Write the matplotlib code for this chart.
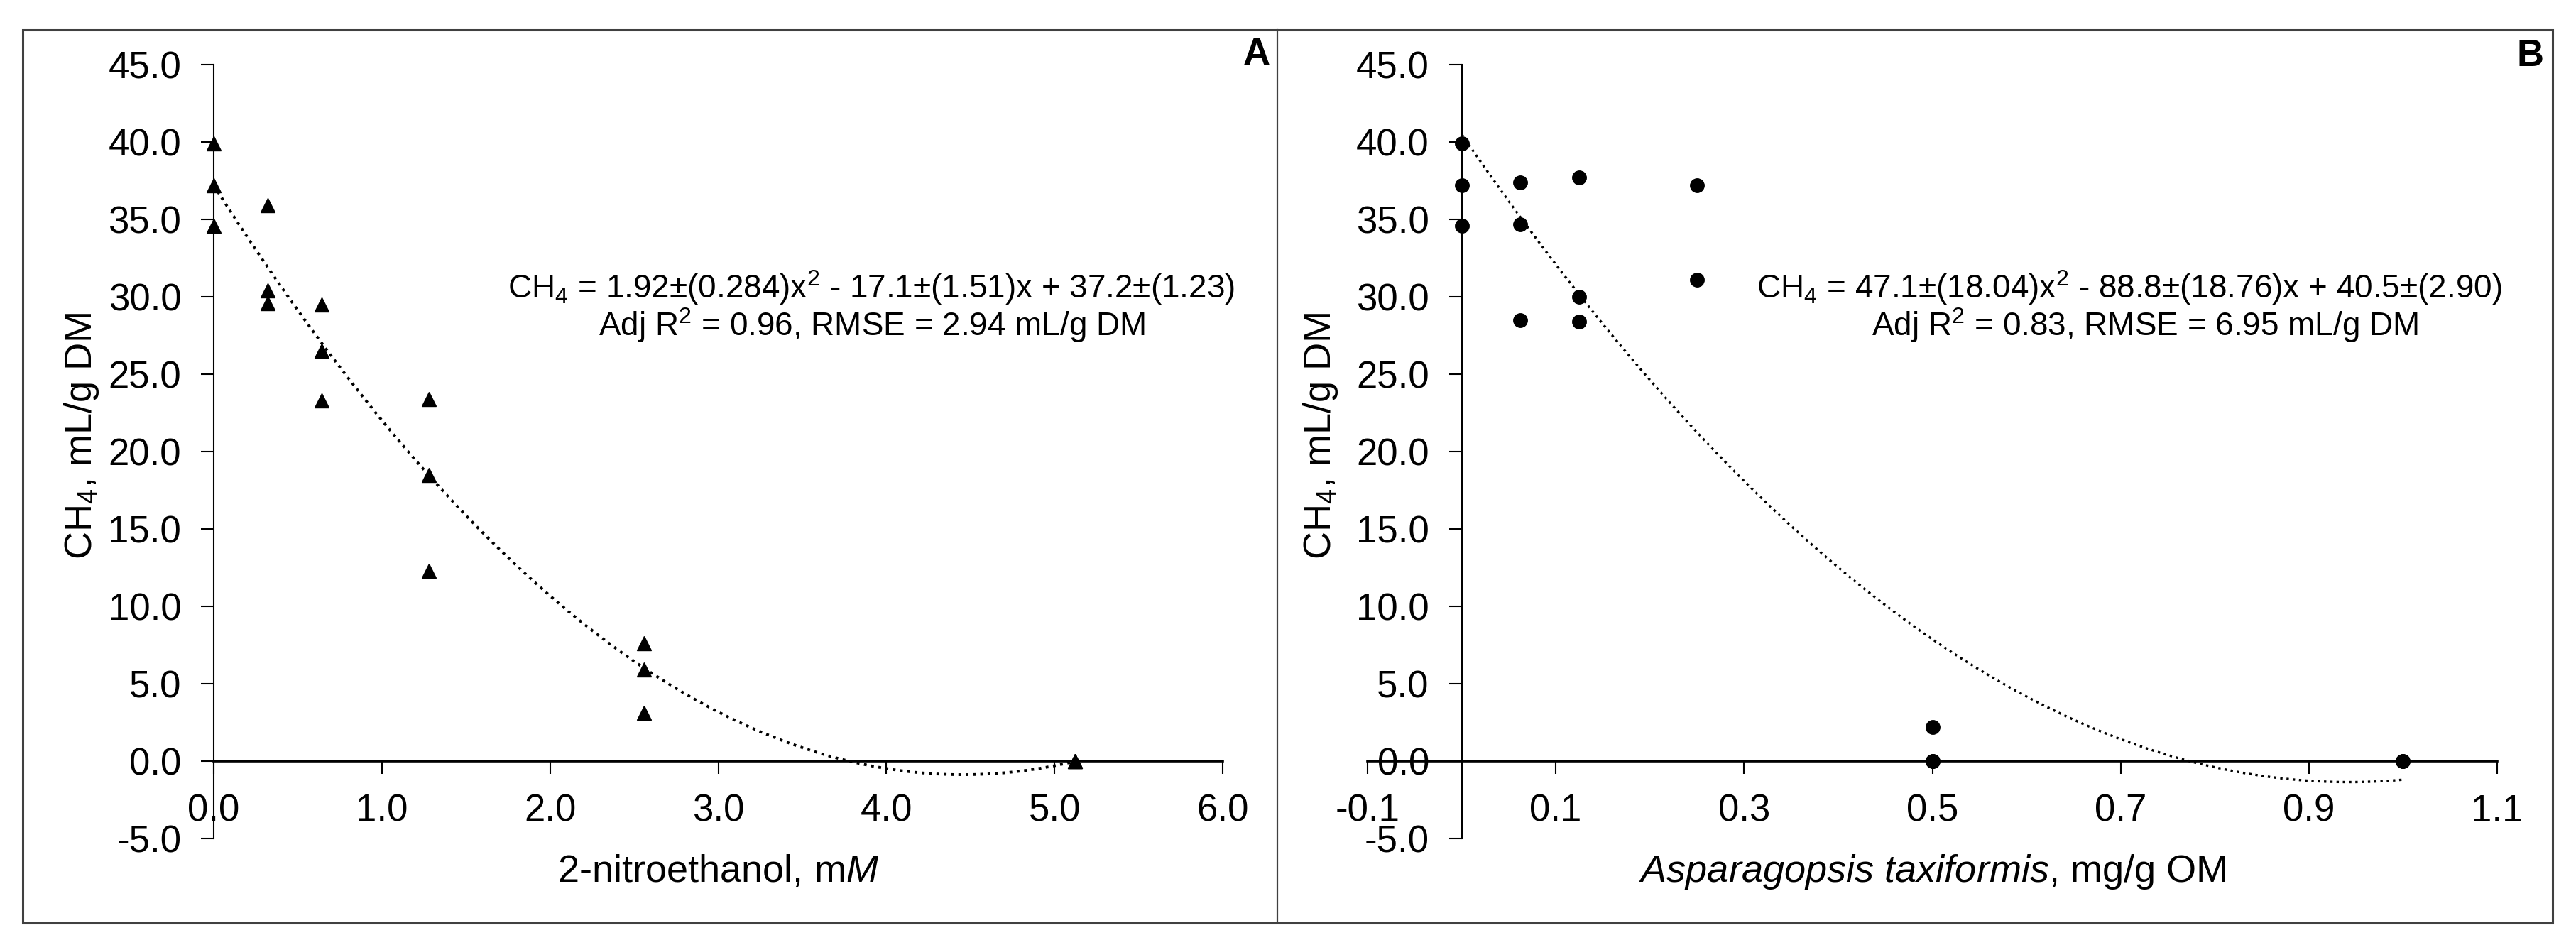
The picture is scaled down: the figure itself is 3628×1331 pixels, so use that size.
import numpy as np
import matplotlib
matplotlib.use("Agg")
import matplotlib.pyplot as plt
from matplotlib.patches import Rectangle
from matplotlib.lines import Line2D

plt.rcParams['font.family'] = ['Liberation Sans', 'DejaVu Sans']
plt.rcParams['mathtext.fontset'] = 'custom'
plt.rcParams['mathtext.rm'] = 'Liberation Sans'
plt.rcParams['mathtext.it'] = 'Liberation Sans:italic'
plt.rcParams['axes.unicode_minus'] = False

# panel A: 2-nitroethanol
nitro_dose = [0, 0, 0, 0.32, 0.32, 0.32, 0.64, 0.64, 0.64,
              1.28, 1.28, 1.28, 2.56, 2.56, 2.56, 5.12, 5.12, 5.12]
nitro_ch4 = [39.9, 37.2, 34.6, 35.9, 30.4, 29.6, 29.5, 26.5, 23.3,
             23.4, 18.5, 12.3, 7.6, 5.9, 3.1, 0.0, 0.0, 0.0]
nitro_coef = [1.92, -17.1, 37.2]          # printed trendline coefficients
nitro_xticks = [0, 1, 2, 3, 4, 5, 6]

# panel B: Asparagopsis taxiformis
asp_dose = [0, 0, 0, 0.0625, 0.0625, 0.0625, 0.125, 0.125, 0.125,
            0.25, 0.25, 0.5, 0.5, 0.5, 1.0, 1.0]
asp_ch4 = [39.9, 37.2, 34.6, 37.4, 34.7, 28.5, 37.7, 30.0, 28.4,
           37.2, 31.1, 2.2, 0.0, 0.0, 0.0, 0.0]
asp_coef = [47.1, -88.8, 40.5]
asp_xticks = [-0.1, 0.1, 0.3, 0.5, 0.7, 0.9, 1.1]

yticks = [-5, 0, 5, 10, 15, 20, 25, 30, 35, 40, 45]

W, H = 3628, 1331
fig = plt.figure(figsize=(W / 100, H / 100), dpi=100)


def fx(px):
    return px / W


def fy(py):
    return 1 - py / H


ax_bottom, ax_top = fy(1181), fy(91)
axA = fig.add_axes([fx(301), ax_bottom, fx(1722) - fx(301), ax_top - ax_bottom])
axB = fig.add_axes([fx(1926), ax_bottom, fx(3517) - fx(1926), ax_top - ax_bottom])


def style(ax, xlim, xticks):
    ax.set_xlim(*xlim)
    ax.set_ylim(-5, 45)
    ax.set_xticks(xticks)
    ax.set_yticks(yticks)
    ax.set_xticklabels([f"{t:.1f}" for t in xticks])
    ax.set_yticklabels([f"{t:.1f}" for t in yticks])
    for s in ['top', 'right']:
        ax.spines[s].set_visible(False)
    ax.spines['left'].set_position(('data', 0))
    ax.spines['bottom'].set_position(('data', 0))
    ax.spines['left'].set_linewidth(1.5)
    ax.spines['bottom'].set_linewidth(2.6)
    ax.tick_params(direction='out', length=13, width=1.5, pad=20, labelsize=38)
    ax.patch.set_alpha(0)


def fit_line(ax, coef, xmax, lw):
    xs = np.linspace(0, xmax, 300)
    ax.plot(xs, np.polyval(coef, xs), color='black', lw=lw, ls=':', zorder=2)


style(axA, (0, 6), nitro_xticks)
fit_line(axA, nitro_coef, max(nitro_dose), 2.8)
axA.plot(nitro_dose, nitro_ch4, ls='none', marker='^', ms=15, color='black',
         clip_on=False, zorder=3)
axA.set_xlabel("2-nitroethanol, m$\\mathit{M}$", fontsize=39, va='center')
axA.xaxis.set_label_coords(0.5, -0.043)
axA.set_ylabel("CH$_4$, mL/g DM", fontsize=39, va='center')
axA.yaxis.set_label_coords((115 - 301) / 1421, 0.52)
axA.text(0.652, 0.712, "CH$_4$ = 1.92±(0.284)x$^2$ - 17.1±(1.51)x + 37.2±(1.23)",
         transform=axA.transAxes, ha='center', va='center', fontsize=33)
axA.text(0.652, 0.663, "Adj R$^2$ = 0.96, RMSE = 2.94 mL/g DM",
         transform=axA.transAxes, ha='center', va='center', fontsize=33)

style(axB, (-0.1, 1.1), asp_xticks)
fit_line(axB, asp_coef, max(asp_dose), 2.4)
axB.plot(asp_dose, asp_ch4, ls='none', marker='o', ms=14, color='black',
         clip_on=False, zorder=3)
axB.set_xlabel("$\\mathit{Asparagopsis\\ taxiformis}$, mg/g OM", fontsize=39, va='center')
axB.xaxis.set_label_coords(0.5, -0.043)
axB.set_ylabel("CH$_4$, mL/g DM", fontsize=39, va='center')
axB.yaxis.set_label_coords((1860 - 1926) / 1591, 0.52)
axB.text(0.674, 0.712, "CH$_4$ = 47.1±(18.04)x$^2$ - 88.8±(18.76)x + 40.5±(2.90)",
         transform=axB.transAxes, ha='center', va='center', fontsize=33)
axB.text(0.688, 0.663, "Adj R$^2$ = 0.83, RMSE = 6.95 mL/g DM",
         transform=axB.transAxes, ha='center', va='center', fontsize=33)

# panel letters
fig.text(fx(1789), fy(77), "A", ha='right', va='center', fontsize=38, fontweight='bold')
fig.text(fx(3583), fy(79), "B", ha='right', va='center', fontsize=38, fontweight='bold')

# outer frame and divider
fig.add_artist(Rectangle((fx(32), fy(1300)), fx(3595) - fx(32), fy(42) - fy(1300),
                         transform=fig.transFigure, fill=False, ec='#404040', lw=2.2))
fig.add_artist(Line2D([fx(1799), fx(1799)], [fy(42), fy(1300)],
                      transform=fig.transFigure, color='#404040', lw=1.6))

fig.savefig("out.png", dpi=100)
